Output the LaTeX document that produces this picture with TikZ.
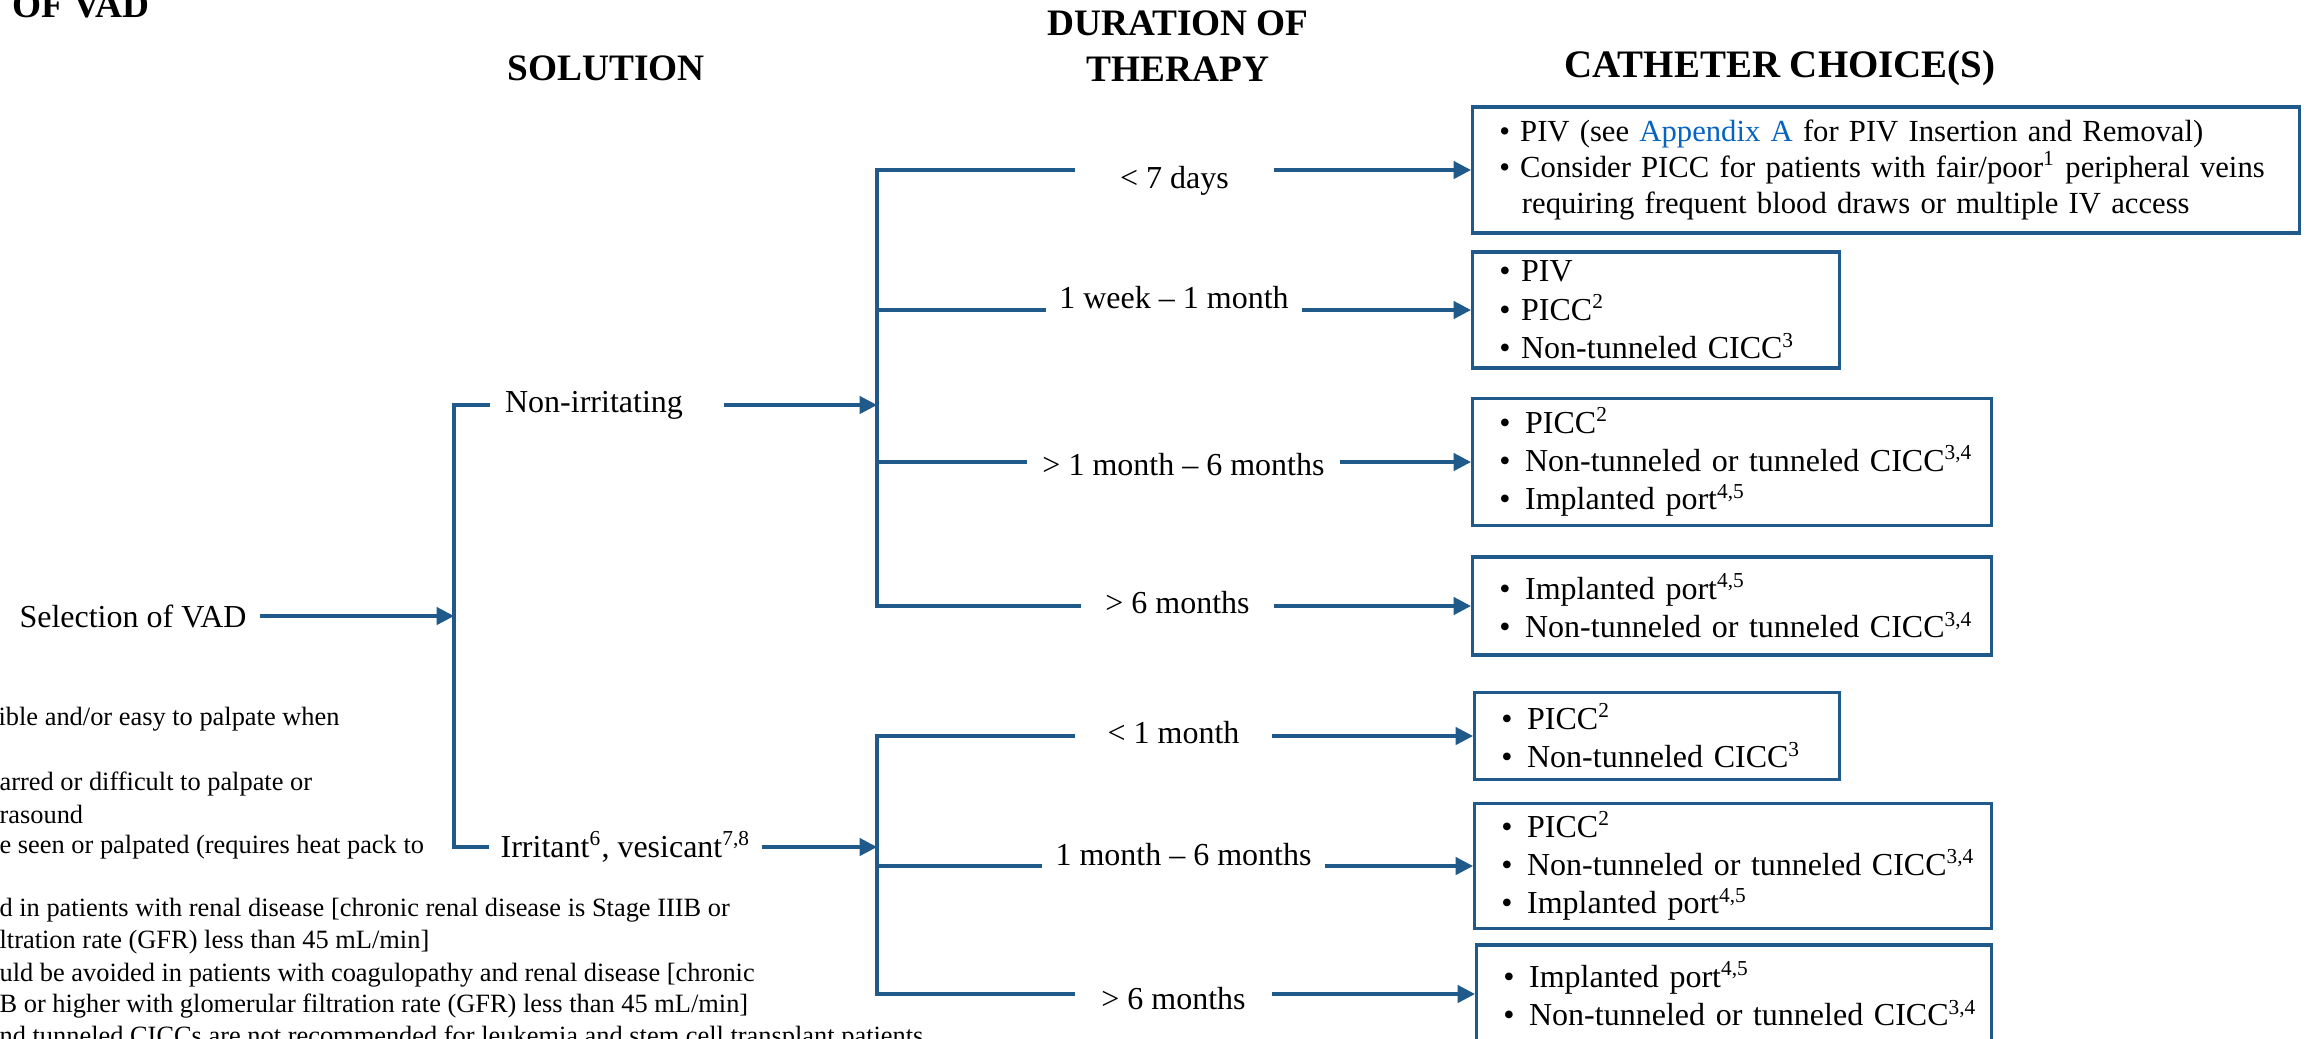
\documentclass[tikz,border=0pt]{standalone}
\usepackage{fontspec}
\setmainfont{Liberation Serif}
\usepackage{tikz}
\usetikzlibrary{arrows.meta}

\definecolor{vadblue}{RGB}{31,90,139}
\definecolor{linkblue}{RGB}{5,99,193}
\newcommand{\bitem}[1]{\mbox{\textbullet\ #1}}
\newcommand{\bitemw}[1]{\mbox{\textbullet\hspace{5.5pt}#1}}

\begin{document}
\begin{tikzpicture}[x=0.375pt,y=-0.375pt,line width=1.2pt,
    link/.style={draw=vadblue},
    arr/.style={draw=vadblue,-{Triangle[length=6.5pt,width=6.5pt]}},
    head/.style={font=\fontsize{14}{17}\selectfont\bfseries,align=center},
    lbl/.style={font=\fontsize{12}{14.4}\selectfont,inner xsep=0pt,minimum width=#1},
    lbl/.default=0pt,
    choice/.style={draw=vadblue,anchor=west,align=left,inner xsep=10pt,inner ysep=2pt,
                   text width=#1,font=\fontsize{12}{14.4}\selectfont},
    note/.style={anchor=west,inner sep=0pt,font=\fontsize{9.9}{12}\selectfont}]
  \useasboundingbox (0,0) rectangle (2306,1038);
  \clip (0,0) rectangle (2306,1038);

  % column heads
  \node[head,anchor=base west] (hvad) at (2,17) {OF VAD};
  \node[head] (hsol) at (606,68) {SOLUTION};
  \node[head] (hdur) at (1178,46) {DURATION OF\\THERAPY};
  \node[head,font=\fontsize{14.6}{17}\selectfont\bfseries] (hcat) at (1780,68) {CATHETER CHOICE(S)};

  % solution split
  \node[lbl,inner xsep=4.5pt] (sel) at (133,616) {Selection of VAD};
  \node[lbl] (nonirr) at (594,405) {Non-irritating};
  \node[lbl=100.9pt] (irr) at (625.5,847) {Irritant\textsuperscript{6}, vesicant\textsuperscript{7,8}};
  \coordinate (s1) at (454,405);
  \coordinate (sm) at (454,616);
  \coordinate (s2) at (454,847);
  \draw[link] ([xshift=-5.25pt]nonirr.west) -- (s1) -- (s2) -- (irr.west);
  \draw[arr] (sel.east) -- (sm);

  % duration of therapy
  \coordinate (t0) at (877,405);
  \coordinate (u0) at (877,847);
  \draw[arr] ([xshift=15pt]nonirr.east) -- (t0);
  \draw[arr] (irr.east) -- (u0);

  \coordinate (b1) at (877,170);
  \coordinate (b2) at (877,310);
  \coordinate (b3) at (877,462);
  \coordinate (b4) at (877,606);
  \coordinate (b5) at (877,736);
  \coordinate (b6) at (877,866);
  \coordinate (b7) at (877,994);

  \node[lbl=73.1pt] (d1) at (1174.5,181) {\textless{} 7 days};
  \node[lbl=94.5pt] (d2) at (1174,298) {1 week -- 1 month};
  \node[lbl=115.9pt] (d3) at (1183.5,465) {\textgreater{} 1 month -- 6 months};
  \node[lbl=70.9pt] (d4) at (1177.5,603) {\textgreater{} 6 months};
  \node[lbl=72.4pt] (d5) at (1173.5,733) {\textless{} 1 month};
  \node[lbl=104.6pt] (d6) at (1183.5,855) {1 month -- 6 months};
  \node[lbl=72.4pt] (d7) at (1173.5,999) {\textgreater{} 6 months};

  \draw[link] (d1.west |- b1) -- (b1) -- (b4) -- (d4.west |- b4);
  \draw[link] (b2) -- (d2.west |- b2);
  \draw[link] (b3) -- (d3.west |- b3);
  \draw[link] (d5.west |- b5) -- (b5) -- (b7) -- (d7.west |- b7);
  \draw[link] (b6) -- (d6.west |- b6);

  % catheter choices
  \node[choice=290pt,minimum height=47.25pt,font=\fontsize{11.5}{13.5}\selectfont] (c1) at (1471,170)
    {\bitem{PIV (see \textcolor{linkblue}{Appendix A} for PIV Insertion and Removal)}\\
     \bitem{Consider PICC for patients with fair/poor\textsuperscript{1} peripheral veins}\\
     \mbox{\hspace*{8.5pt}requiring frequent blood draws or multiple IV access}};
  \node[choice=117.6pt,minimum height=43.5pt] (c2) at (1471,310)
    {\bitem{PIV}\\ \bitem{PICC\textsuperscript{2}}\\ \bitem{Non-tunneled CICC\textsuperscript{3}}};
  \node[choice=174.6pt,minimum height=47.6pt] (c3) at (1471,462)
    {\bitemw{PICC\textsuperscript{2}}\\ \bitemw{Non-tunneled or tunneled CICC\textsuperscript{3,4}}\\
     \bitemw{Implanted port\textsuperscript{4,5}}};
  \node[choice=174.6pt,minimum height=36.75pt] (c4) at (1471,606)
    {\bitemw{Implanted port\textsuperscript{4,5}}\\ \bitemw{Non-tunneled or tunneled CICC\textsuperscript{3,4}}};
  \node[choice=116.9pt,minimum height=32.6pt] (c5) at (1473,736)
    {\bitemw{PICC\textsuperscript{2}}\\ \bitemw{Non-tunneled CICC\textsuperscript{3}}};
  \node[choice=173.9pt,minimum height=46.9pt] (c6) at (1473,866)
    {\bitemw{PICC\textsuperscript{2}}\\ \bitemw{Non-tunneled or tunneled CICC\textsuperscript{3,4}}\\
     \bitemw{Implanted port\textsuperscript{4,5}}};
  \node[choice=173.1pt,minimum height=36.75pt] (c7) at (1475,994)
    {\bitemw{Implanted port\textsuperscript{4,5}}\\ \bitemw{Non-tunneled or tunneled CICC\textsuperscript{3,4}}};

  \draw[arr] (d1.east |- b1) -- (c1.west);
  \draw[arr] (d2.east |- b2) -- (c2.west);
  \draw[arr] (d3.east |- b3) -- (c3.west);
  \draw[arr] (d4.east |- b4) -- (c4.west);
  \draw[arr] (d5.east |- b5) -- (c5.west);
  \draw[arr] (d6.east |- b6) -- (c6.west);
  \draw[arr] (d7.east |- b7) -- (c7.west);

  % notes, cut at the left edge
  \node[note] (f1) at (-3,719) {ible and/or easy to palpate when};
  \node[note] (f2) at (-2,784) {arred or difficult to palpate or};
  \node[note] (f3) at (-2,814) {rasound};
  \node[note] (f4) at (-2,847) {e seen or palpated (requires heat pack to};
  \node[note] (f5) at (-2,910) {d in patients with renal disease [chronic renal disease is Stage IIIB or};
  \node[note] (f6) at (-2,942) {ltration rate (GFR) less than 45 mL/min]};
  \node[note] (f7) at (-2,975) {uld be avoided in patients with coagulopathy and renal disease [chronic};
  \node[note] (f8) at (-2,1006) {B or higher with glomerular filtration rate (GFR) less than 45 mL/min]};
  \node[note] (f9) at (-2,1038) {nd tunneled CICCs are not recommended for leukemia and stem cell transplant patients};
\end{tikzpicture}
\end{document}
